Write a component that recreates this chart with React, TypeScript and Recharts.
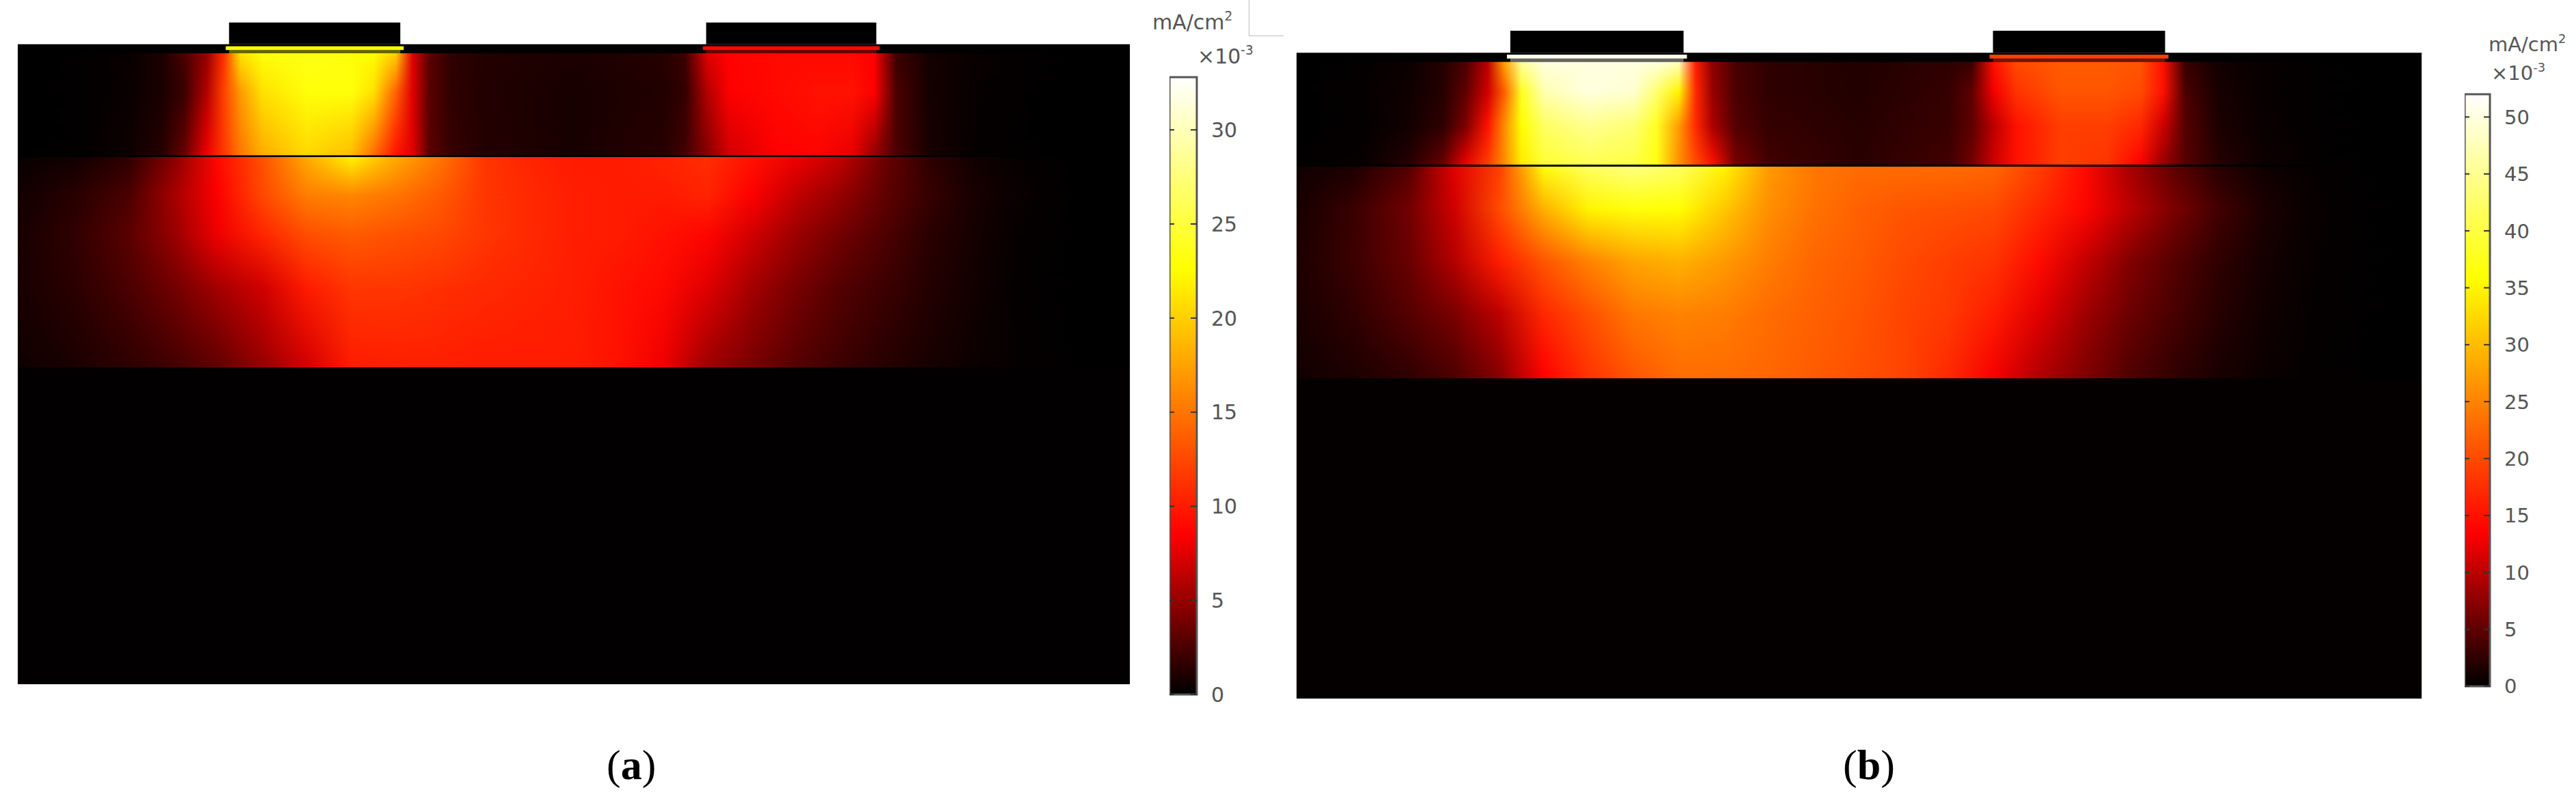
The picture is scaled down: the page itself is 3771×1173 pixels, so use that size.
import { Bar, BarChart, ComposedChart, ReferenceArea, ReferenceLine, XAxis, YAxis } from "recharts";

// x positions across the device, in % of its width
const topStops = [0, 6, 10, 13, 15, 17, 18.5, 20, 22, 26, 30, 32, 34, 35.5, 37, 39, 42, 50, 58, 60, 62, 64, 68, 72, 75, 77, 79, 82, 86, 92, 100];
const midStops = [0, 5, 10, 14, 18, 22, 26, 30, 34, 38, 42, 46, 50, 54, 58, 62, 66, 70, 74, 78, 82, 86, 90, 95, 100];

// current density in mA/cm2 x 10^-3
const topDepthsA = [1.4, 7.4, 17.4];
const topRowsA = [
  [0, 0.1, 0.3, 1, 2.5, 5, 11, 21, 23, 23.5, 23, 22.5, 20, 7.5, 3, 1.6, 1.2, 0.9, 1.3, 2, 7.5, 8.7, 9, 9, 9, 8.5, 2, 0.7, 0.3, 0.1, 0],
  [0, 0.1, 0.3, 0.9, 2, 6, 12, 17, 21, 23, 23, 21, 14, 7.5, 3, 1.6, 1.1, 0.8, 1.1, 1.7, 6, 8.5, 9, 9.5, 9.5, 8.5, 2.5, 0.7, 0.25, 0.05, 0],
  [0, 0.1, 0.5, 1.3, 3.5, 8, 11.5, 15, 18, 20.5, 19, 14.5, 9.5, 7.5, 3, 1.8, 1.2, 0.8, 1.3, 2.2, 4.5, 7, 8.5, 8.7, 7.8, 5, 2.5, 0.8, 0.2, 0.05, 0],
];
const midDepthsA = [17.6, 23.5, 29.8, 38, 50.5];
const midRowsA = [
  [0.3, 0.6, 1.5, 4.5, 9, 13, 18, 22, 18, 15, 11.5, 10.5, 10, 10, 10.5, 11, 9.5, 8, 6.5, 3.5, 1.5, 0.6, 0.2, 0.05, 0],
  [0.6, 1.3, 2.5, 5.5, 8.5, 12.5, 15.5, 16, 15, 13.5, 11.5, 10.8, 10.2, 10, 10, 10.5, 8.5, 6.5, 5, 3.2, 1.8, 0.8, 0.3, 0.05, 0],
  [0.8, 1.6, 3, 5, 8, 10.5, 12.8, 13.5, 13, 12.5, 11.5, 10.8, 10.2, 10, 9.5, 8.8, 7, 5.2, 3.8, 2.6, 1.4, 0.7, 0.2, 0.03, 0],
  [0.8, 1.4, 2.5, 3.8, 5.5, 7, 10, 11.5, 11.5, 11.2, 10.8, 10.5, 10.2, 9.5, 9, 7.5, 5.5, 4, 2.8, 2, 1.2, 0.6, 0.15, 0.03, 0],
  [0.5, 0.9, 1.5, 2.2, 3.2, 5, 7, 10, 10.2, 10.2, 10, 10, 10, 9.5, 8, 5.3, 4, 2.8, 2, 1.3, 0.8, 0.4, 0.2, 0.02, 0],
];

const topDepthsB = [1.4, 6, 11.3, 17.4];
const topRowsB = [
  [0, 0.2, 0.6, 2, 4, 10, 28, 46, 50, 50, 50, 50, 48, 16, 7.5, 4, 2.5, 1.8, 2.5, 3, 15, 20, 21.5, 21.5, 21, 15, 3, 1, 0.4, 0.1, 0],
  [0, 0.3, 0.8, 2, 5, 11, 22, 38, 47, 50, 49, 43, 35, 17, 8, 4, 2.5, 1.8, 2.8, 5, 13, 18, 21, 21, 20, 15, 4, 1.2, 0.4, 0.1, 0],
  [0, 0.2, 1, 2.5, 6.5, 15, 26, 36, 42, 45, 43, 38, 27, 17, 9, 4.5, 2.8, 2, 3, 5, 10, 15, 19, 19, 17, 11, 4.5, 1.5, 0.5, 0.1, 0],
  [0.1, 0.5, 2, 5.5, 12.5, 19, 26, 34, 39, 41, 40, 37, 26, 20, 15, 6.5, 3.5, 2.2, 3.5, 6, 11, 15, 19, 18, 13.5, 8, 4.5, 2, 0.7, 0.1, 0],
];
const midDepthsB = [17.6, 24.2, 32.3, 40.4, 50.4];
const midRowsB = [
  [0.8, 1.5, 4.5, 12, 19, 36.5, 42, 44, 42, 35, 27, 24, 23, 23, 23, 22.5, 19, 14.5, 9, 5, 2.2, 0.8, 0.3, 0.1, 0],
  [1.2, 3, 6, 11, 20, 29, 35, 36.5, 36, 31, 26, 23.5, 22, 21, 20.5, 20, 17, 14, 10, 6.5, 3.5, 1.5, 0.5, 0.1, 0],
  [1.5, 3.2, 5.5, 9.5, 16, 21, 25, 28, 29, 27, 24.5, 22.5, 21.5, 20, 19, 18, 14.5, 10.5, 7, 4.5, 2.5, 1.1, 0.35, 0.1, 0],
  [1.3, 2.5, 4.5, 6.5, 10, 17, 20.5, 24, 25, 24.5, 23, 22, 21, 19.5, 18.5, 16, 12, 8.5, 5.8, 3.8, 2, 0.9, 0.3, 0.08, 0],
  [0.9, 1.5, 2.5, 4, 7, 13.5, 18, 21, 23, 23, 22.5, 21.5, 20.5, 19.5, 17, 13, 9.3, 6.8, 4.2, 2.6, 1.3, 0.6, 0.2, 0.05, 0],
];

const contacts: [number, number][] = [
  [19, 34.4],
  [61.9, 77.2],
];
const stripValuesA = [22.5, 9];
const stripValuesB = [51, 19];

const ticksA = [0, 5, 10, 15, 20, 25, 30];
const ticksB = [0, 5, 10, 15, 20, 25, 30, 35, 40, 45, 50];

const heatKnots: [number, [number, number, number]][] = [
  [0, [0, 0, 0]],
  [0.26, [255, 0, 0]],
  [0.69, [255, 255, 0]],
  [1, [255, 255, 255]],
];

function heatColor(t: number) {
  const v = Math.min(1, Math.max(0, t));
  for (let i = 1; i < heatKnots.length; i++) {
    const [t0, c0] = heatKnots[i - 1];
    const [t1, c1] = heatKnots[i];
    if (v <= t1) {
      const f = (v - t0) / (t1 - t0);
      const ch = c0.map((c, k) => Math.round(c + (c1[k] - c) * f));
      return `rgb(${ch[0]},${ch[1]},${ch[2]})`;
    }
  }
  return "#fff";
}

interface LayerProps {
  id: string;
  stops: number[];
  depths: number[];
  rows: number[][];
  max: number;
}

// Each row is a band with a horizontal gradient, faded in over the row above it
function HeatLayer({ id, stops, depths, rows, max }: LayerProps) {
  return (
    <>
      {rows.map((row, i) => {
        const y1 = i === 0 ? depths[0] : depths[i - 1];
        const y2 = i === rows.length - 1 ? depths[i] : depths[i + 1];
        const fade = i === 0 ? 0 : (depths[i] - y1) / (y2 - y1);
        return (
          <defs key={`d${i}`}>
            <linearGradient id={`${id}-fill-${i}`} x1="0" x2="1" y1="0" y2="0">
              {row.map((v, k) => (
                <stop key={k} offset={`${stops[k]}%`} stopColor={heatColor(v / max)} />
              ))}
            </linearGradient>
            <linearGradient id={`${id}-fade-${i}`} x1="0" x2="0" y1="0" y2="1">
              <stop offset="0" stopColor={i === 0 ? "#fff" : "#000"} />
              <stop offset={fade} stopColor="#fff" />
            </linearGradient>
            <mask id={`${id}-mask-${i}`} maskContentUnits="objectBoundingBox" x="0" y="0" width="1" height="1">
              <rect x="0" y="0" width="1" height="1" fill={`url(#${id}-fade-${i})`} />
            </mask>
          </defs>
        );
      })}
      {rows.map((_, i) => {
        const y1 = i === 0 ? depths[0] : depths[i - 1];
        const y2 = i === rows.length - 1 ? depths[i] : depths[i + 1];
        return (
          <ReferenceArea
            key={`r${i}`}
            x1={0}
            x2={100}
            y1={y1}
            y2={y2}
            shape={(p: any) => (
              <rect
                x={p.x}
                y={p.y}
                width={p.width}
                height={p.height}
                fill={`url(#${id}-fill-${i})`}
                mask={`url(#${id}-mask-${i})`}
              />
            )}
          />
        );
      })}
    </>
  );
}

interface PanelProps {
  id: string;
  left: number;
  top: number;
  width: number;
  height: number;
  max: number;
  topDepths: number[];
  topRows: number[][];
  midDepths: number[];
  midRows: number[][];
  stripValues: number[];
  bottomValue: number;
}

function Panel(props: PanelProps) {
  const { id, left, top, width, height, max, topDepths, topRows, midDepths, midRows, stripValues, bottomValue } = props;
  return (
    <div style={{ position: "absolute", left, top }}>
      <ComposedChart width={width} height={height} data={[]} margin={{ top: 0, right: 0, bottom: 0, left: 0 }}>
        <XAxis type="number" dataKey="x" domain={[0, 100]} hide allowDataOverflow />
        <YAxis type="number" dataKey="y" domain={[-3.4, 100]} reversed hide allowDataOverflow />
        <ReferenceArea x1={0} x2={100} y1={0} y2={100} fill="#000" fillOpacity={1} />
        {contacts.map(([a, b]) => (
          <ReferenceArea key={a} x1={a} x2={b} y1={-3.4} y2={0} fill="#000" fillOpacity={1} />
        ))}
        <HeatLayer id={`${id}-top`} stops={topStops} depths={topDepths} rows={topRows} max={max} />
        <HeatLayer id={`${id}-mid`} stops={midStops} depths={midDepths} rows={midRows} max={max} />
        <ReferenceArea x1={0} x2={100} y1={50.5} y2={100} fill={heatColor(bottomValue / max)} fillOpacity={1} />
        {contacts.map(([a, b], i) => (
          <ReferenceArea key={a} x1={a - 0.3} x2={b + 0.3} y1={0.3} y2={0.9} fill={heatColor(stripValues[i] / max)} fillOpacity={1} />
        ))}
        {contacts.map(([a, b], i) => (
          <ReferenceArea key={a} x1={a} x2={b} y1={0.9} y2={1.4} fill={heatColor(stripValues[i] / max)} fillOpacity={0.4} />
        ))}
        <ReferenceLine y={17.45} stroke="#000" strokeOpacity={0.6} strokeWidth={3} />
      </ComposedChart>
    </div>
  );
}

interface ColorBarProps {
  id: string;
  left: number;
  top: number;
  barHeight: number;
  barWidth: number;
  max: number;
  ticks: number[];
  fontSize: number;
}

function ColorBar({ id, left, top, barHeight, barWidth, max, ticks, fontSize }: ColorBarProps) {
  const pad = 24;
  const axisWidth = 90;
  const renderTick = (p: any) => (
    <g>
      <line x1={p.x - barWidth} x2={p.x - barWidth + 7} y1={p.y} y2={p.y} stroke="#333" strokeWidth={2} />
      <line x1={p.x - 9} x2={p.x} y1={p.y} y2={p.y} stroke="#333" strokeWidth={2} />
      <text x={p.x + 21} y={p.y + fontSize * 0.36} fontSize={fontSize} fontFamily="DejaVu Sans" fill="#555">
        {p.payload.value}
      </text>
    </g>
  );
  return (
    <div style={{ position: "absolute", left, top: top - pad }}>
      <BarChart
        width={barWidth + axisWidth}
        height={barHeight + pad * 2}
        data={[{ name: "scale", value: max }]}
        barCategoryGap={0}
        margin={{ top: pad, right: 0, bottom: pad, left: 0 }}
      >
        <defs>
          <linearGradient id={`${id}-scale`} x1="0" x2="0" y1="1" y2="0">
            {heatKnots.map(([t, c]) => (
              <stop key={t} offset={t} stopColor={`rgb(${c[0]},${c[1]},${c[2]})`} />
            ))}
          </linearGradient>
        </defs>
        <XAxis dataKey="name" hide />
        <YAxis
          orientation="right"
          type="number"
          domain={[0, max]}
          ticks={ticks}
          width={axisWidth}
          axisLine={false}
          tickLine={false}
          tickSize={0}
          tickMargin={0}
          tick={renderTick}
          interval={0}
        />
        <Bar dataKey="value" fill={`url(#${id}-scale)`} stroke="#555" strokeWidth={3} isAnimationActive={false} />
      </BarChart>
    </div>
  );
}

function Label({ left, baseline, size, text, sup }: { left: number; baseline: number; size: number; text: string; sup: string }) {
  return (
    <div
      style={{
        position: "absolute",
        left,
        top: baseline - size * 0.846,
        fontFamily: "DejaVu Sans",
        fontSize: size,
        lineHeight: 1,
        color: "#555",
        whiteSpace: "nowrap",
      }}
    >
      {text}
      <span style={{ fontSize: size * 0.62, position: "relative", top: -size * 0.42 }}>{sup}</span>
    </div>
  );
}

function Caption({ left, letter }: { left: number; letter: string }) {
  return (
    <div
      style={{
        position: "absolute",
        left,
        top: 1085,
        fontFamily: "Liberation Serif",
        fontSize: 62,
        color: "#000",
      }}
    >
      (<b>{letter}</b>)
    </div>
  );
}

export default function App() {
  return (
    <div style={{ position: "absolute", left: 0, top: 0, width: 3771, height: 1173, background: "#fff", overflow: "hidden" }}>
      <Panel
        id="a"
        left={26}
        top={33}
        width={1628}
        height={969}
        max={32.8}
        topDepths={topDepthsA}
        topRows={topRowsA}
        midDepths={midDepthsA}
        midRows={midRowsA}
        stripValues={stripValuesA}
        bottomValue={0.08}
      />
      <Panel
        id="b"
        left={1898}
        top={45}
        width={1647}
        height={978}
        max={52}
        topDepths={topDepthsB}
        topRows={topRowsB}
        midDepths={midDepthsB}
        midRows={midRowsB}
        stripValues={stripValuesB}
        bottomValue={0.2}
      />
      <ColorBar id="ca" left={1712} top={113} barHeight={904} barWidth={40} max={32.8} ticks={ticksA} fontSize={30} />
      <ColorBar id="cb" left={3608} top={138} barHeight={867} barWidth={37} max={52} ticks={ticksB} fontSize={29} />
      <Label left={1687} baseline={43} size={30} text="mA/cm" sup="2" />
      <Label left={1753} baseline={93} size={30} text="×10" sup="-3" />
      <Label left={3643} baseline={76} size={29} text="mA/cm" sup="2" />
      <Label left={3647} baseline={118} size={29} text="×10" sup="-3" />
      <div style={{ position: "absolute", left: 1828, top: 0, width: 50, height: 52, borderLeft: "1px solid #bbb", borderBottom: "1px solid #bbb" }} />
      <Caption left={888} letter="a" />
      <Caption left={2698} letter="b" />
    </div>
  );
}
